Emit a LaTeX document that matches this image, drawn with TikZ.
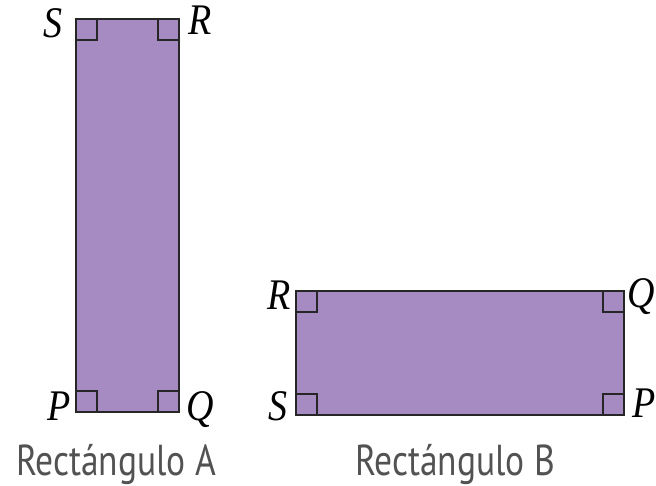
\documentclass[tikz,border=0pt]{standalone}
\usepackage{fontspec}
\setmainfont{Liberation Serif}
\newfontfamily\capfont{PT Sans}
\definecolor{rectfill}{HTML}{A68BC3}
\definecolor{rectline}{HTML}{262626}
\tikzset{
  rectshape/.style={fill=rectfill, draw=rectline, line width=2.8pt},
  cornerbox/.style={draw=rectline, line width=2.4pt},
  vlabel/.style={inner sep=0pt, font=\fontsize{38}{40}\selectfont\itshape},
  caption/.style={inner sep=0pt, anchor=base, font=\fontsize{35.5}{40}\selectfont\capfont, text=black!68}
}
\newcommand{\tall}[1]{\scalebox{1}[1.15]{#1}}
\newcommand{\taller}[1]{\scalebox{1}[1.22]{#1}}
\begin{document}
\begin{tikzpicture}[x=1pt,y=-1pt]
\useasboundingbox (0,0) rectangle (656,486);
% Rectangle A
\coordinate (A1) at (76,19);
\coordinate (A2) at (179,412);
\draw[rectshape] (A1) rectangle (A2);
\draw[cornerbox] (76,40) -- (97,40) -- (97,19);
\draw[cornerbox] (158,19) -- (158,40) -- (179,40);
\draw[cornerbox] (76,391) -- (97,391) -- (97,412);
\draw[cornerbox] (158,412) -- (158,391) -- (179,391);
% Rectangle B
\coordinate (B1) at (296,291);
\coordinate (B2) at (624,415);
\draw[rectshape] (B1) rectangle (B2);
\draw[cornerbox] (296,312) -- (317,312) -- (317,291);
\draw[cornerbox] (603,291) -- (603,312) -- (624,312);
\draw[cornerbox] (296,394) -- (317,394) -- (317,415);
\draw[cornerbox] (603,415) -- (603,394) -- (624,394);
% vertex labels A
\node[vlabel] (sA) at (53,23) {\tall{S}};
\node[vlabel] (rA) at (200,20) {\tall{R}};
\node[vlabel] (pA) at (59,406) {\tall{P}};
\node[vlabel] (qA) at (200,410) {\tall{Q}};
% vertex labels B
\node[vlabel] (rB) at (279,295) {\tall{R}};
\node[vlabel] (qB) at (641,297) {\tall{Q}};
\node[vlabel] (sB) at (278,406) {\tall{S}};
\node[vlabel] (pB) at (644,403) {\tall{P}};
% captions
\node[caption] (capA) at (116,475) {\taller{Rectángulo A}};
\node[caption] (capB) at (455,475) {\taller{Rectángulo B}};
\end{tikzpicture}
\end{document}
